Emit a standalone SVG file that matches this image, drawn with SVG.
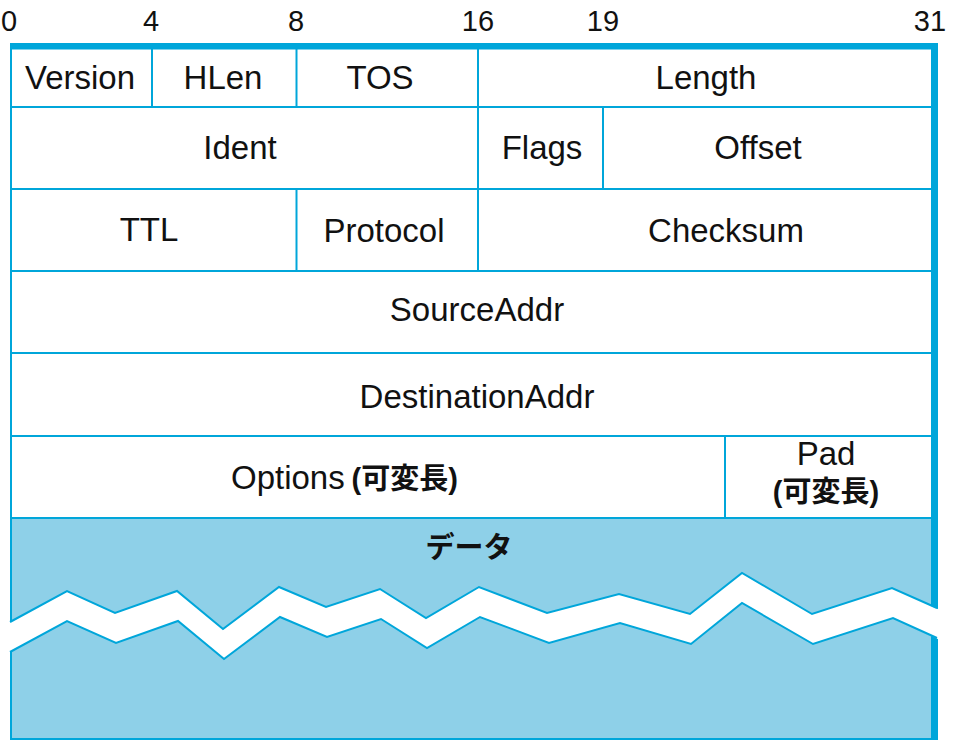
<svg xmlns="http://www.w3.org/2000/svg" width="954" height="741" viewBox="0 0 954 741">
<style>
.ln{stroke:#00a6da;stroke-width:2;fill:none}
.lbl{font-family:"Liberation Sans",Arial,sans-serif;font-size:33px;fill:#111;text-anchor:middle}
.lbs{font-family:"Liberation Sans",Arial,sans-serif;font-size:33px;fill:#111;text-anchor:start}
.num{font-family:"Liberation Sans",Arial,sans-serif;font-size:29px;fill:#111;text-anchor:middle}
.cjk{font-family:"Liberation Sans","Noto Sans CJK JP",sans-serif;font-weight:bold;font-size:29px;fill:#111;text-anchor:start}
.cjkm{font-family:"Liberation Sans","Noto Sans CJK JP",sans-serif;font-weight:bold;font-size:29px;fill:#111;text-anchor:middle}
</style>
<rect width="954" height="741" fill="#fff"/>
<g id="bit-numbers">
<text class="num" x="9" y="31">0</text>
<text class="num" x="151" y="31">4</text>
<text class="num" x="296" y="31">8</text>
<text class="num" x="478" y="31">16</text>
<text class="num" x="603" y="31">19</text>
<text class="num" x="930" y="31">31</text>
</g>
<g id="data">
<rect x="11" y="518" width="920" height="221" fill="#8ed0e8"/>
<text class="cjkm" x="469" y="558">データ</text>
</g>
<g id="frame">
<rect x="10" y="43" width="928" height="6.5" fill="#00a6da"/>
<rect x="931" y="43" width="7" height="696" fill="#00a6da"/>
<line class="ln" x1="11" y1="43" x2="11" y2="740"/>
<line class="ln" x1="10" y1="739" x2="938" y2="739"/>
</g>
<g id="connectors">
<line class="ln" x1="11" y1="107" x2="931" y2="107"/>
<line class="ln" x1="11" y1="189" x2="931" y2="189"/>
<line class="ln" x1="11" y1="271" x2="931" y2="271"/>
<line class="ln" x1="11" y1="353" x2="931" y2="353"/>
<line class="ln" x1="11" y1="436" x2="931" y2="436"/>
<line class="ln" x1="11" y1="518" x2="931" y2="518"/>
<line class="ln" x1="152" y1="49" x2="152" y2="107"/>
<line class="ln" x1="296.5" y1="49" x2="296.5" y2="107"/>
<line class="ln" x1="296.5" y1="189" x2="296.5" y2="271"/>
<line class="ln" x1="478" y1="49" x2="478" y2="271"/>
<line class="ln" x1="603" y1="107" x2="603" y2="189"/>
<line class="ln" x1="725" y1="436" x2="725" y2="518"/>
</g>
<g id="break">
<polygon fill="#fff" points="0,622 10,622 67,591 115,613 177,591 223,629 279,587 326,607 380,589 426,618 479,587 547,613 619,594 690,614 742,573 812,614 892,588 942,611 942,641 893,618 813,644 742,603 691,644 620,623 549,643 480,617 427,648 381,619 327,637 280,617 224,659 178,621 116,643 67,621 10,652 0,652"/>
<polyline class="ln" points="10,622 67,591 115,613 177,591 223,629 279,587 326,607 380,589 426,618 479,587 547,613 619,594 690,614 742,573 812,614 892,588 937,608"/>
<polyline class="ln" points="10,652 67,621 116,643 178,621 224,659 280,617 327,637 381,619 427,648 480,617 549,643 620,623 691,644 742,603 813,644 893,618 937,638"/>
</g>
<g id="n-version"><text class="lbl" x="80" y="89">Version</text></g>
<g id="n-hlen"><text class="lbl" x="223" y="89">HLen</text></g>
<g id="n-tos"><text class="lbl" x="380" y="89">TOS</text></g>
<g id="n-length"><text class="lbl" x="706" y="89">Length</text></g>
<g id="n-ident"><text class="lbl" x="240" y="159">Ident</text></g>
<g id="n-flags"><text class="lbl" x="542" y="159">Flags</text></g>
<g id="n-offset"><text class="lbl" x="758" y="159">Offset</text></g>
<g id="n-ttl"><text class="lbl" x="149" y="241">TTL</text></g>
<g id="n-protocol"><text class="lbl" x="384" y="242">Protocol</text></g>
<g id="n-checksum"><text class="lbl" x="726" y="242">Checksum</text></g>
<g id="n-source"><text class="lbl" x="477" y="321">SourceAddr</text></g>
<g id="n-dest"><text class="lbl" x="477" y="408">DestinationAddr</text></g>
<g id="n-options"><text class="lbs" x="231" y="489">Options</text><text class="cjk" x="351.5" y="489">(可変長)</text></g>
<g id="n-pad"><text class="lbl" x="826" y="465">Pad</text><text class="cjkm" x="826" y="502">(可変長)</text></g>
</svg>
